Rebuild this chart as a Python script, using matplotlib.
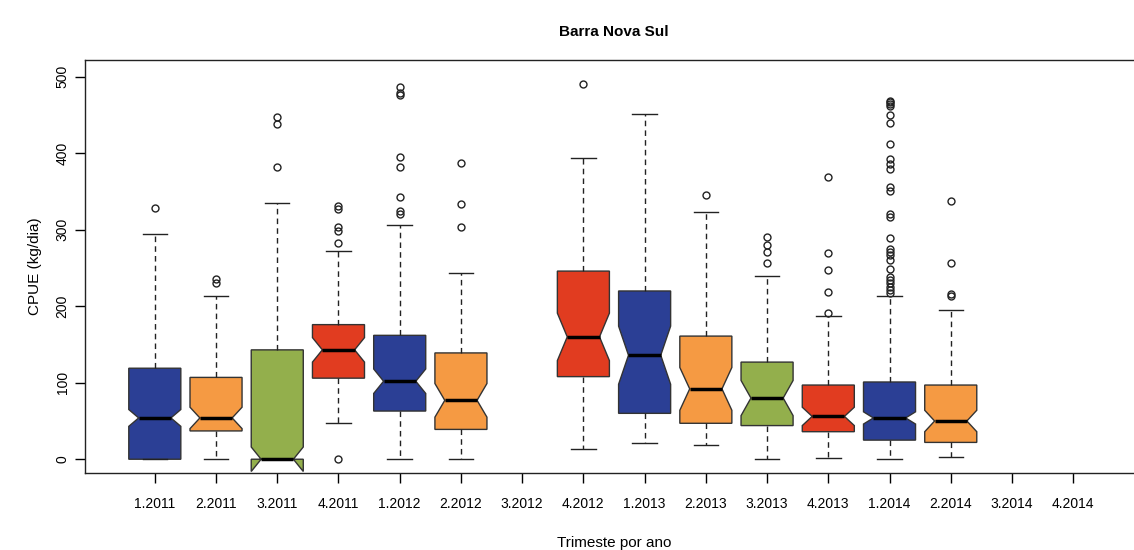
import numpy as np
import matplotlib
matplotlib.use("Agg")
import matplotlib.pyplot as plt

plt.rcParams['font.family'] = ['Liberation Sans', 'DejaVu Sans']

# Trimestres (quarter.year); None = sem dados
labels = ['1.2011', '2.2011', '3.2011', '4.2011', '1.2012', '2.2012', '3.2012', '4.2012',
          '1.2013', '2.2013', '3.2013', '4.2013', '1.2014', '2.2014', '3.2014', '4.2014']

q1 = [0, 37, 0, 106, 63, 39, None, 108, 60, 47, 44, 36, 25, 22, None, None]
med = [54, 54, 0, 143, 102, 77, None, 160, 136, 92, 80, 56, 54, 50, None, None]
q3 = [119, 107, 143, 176, 162, 139, None, 246, 220, 161, 127, 97, 101, 97, None, None]
whis_lo = [0, 0, 0, 47, 0, 0, None, 14, 21, 18, 0, 1, 0, 3, None, None]
whis_hi = [294, 213, 335, 272, 306, 243, None, 394, 451, 323, 240, 187, 214, 195, None, None]
notch_lo = [43, 40, -16, 127, 86, 55, None, 129, 98, 64, 57, 44, 46, 36, None, None]
notch_hi = [65, 68, 16, 159, 118, 99, None, 191, 174, 120, 103, 68, 62, 64, None, None]
outliers = [
    [328],
    [230, 236],
    [382, 438, 447],
    [0, 283, 298, 304, 327, 331],
    [321, 325, 343, 382, 395, 476, 479, 487],
    [304, 334, 387],
    [],
    [490],
    [],
    [345],
    [256, 271, 280, 290],
    [191, 219, 247, 269, 369],
    [217, 221, 225, 230, 234, 238, 249, 260, 267, 271, 275, 289, 317, 321,
     351, 356, 380, 386, 393, 412, 439, 450, 462, 465, 467, 469],
    [213, 216, 257, 338],
    [],
    [],
]

# cor por trimestre
quarter_colors = {'1': '#2b3f95', '2': '#f59a43', '3': '#93af4c', '4': '#e13c20'}

BOX_W = 0.85
NOTCH_W = 0.31  # meia-largura no entalhe, em fração da largura da caixa

stats, pos, cols = [], [], []
for i, lab in enumerate(labels):
    if med[i] is None:
        continue
    stats.append(dict(med=med[i], q1=q1[i], q3=q3[i], whislo=whis_lo[i], whishi=whis_hi[i],
                      cilo=notch_lo[i], cihi=notch_hi[i], fliers=np.array(outliers[i])))
    pos.append(i + 1)
    cols.append(quarter_colors[lab.split('.')[0]])

fig = plt.figure(figsize=(11.34, 5.5), dpi=100)
ax = fig.add_axes([85 / 1134, 77 / 550, 1058 / 1134, 413 / 550])

bp = ax.bxp(stats, positions=pos, widths=BOX_W, capwidths=0.4, shownotches=True,
            patch_artist=True,
            boxprops=dict(edgecolor='#333333', linewidth=1),
            medianprops=dict(color='black', linewidth=2.5),
            whiskerprops=dict(color='#222222', linewidth=1, linestyle=(0, (4, 3))),
            capprops=dict(color='#222222', linewidth=1),
            flierprops=dict(marker='o', markersize=5, markerfacecolor='none',
                            markeredgecolor='#222222', markeredgewidth=1))

# entalhe um pouco mais raso que o padrão
for patch, line, c, p in zip(bp['boxes'], bp['medians'], cols, pos):
    patch.set_facecolor(c)
    verts = patch.get_path().vertices
    verts[3, 0] = p + BOX_W * NOTCH_W
    verts[8, 0] = p - BOX_W * NOTCH_W
    line.set_xdata([p - BOX_W * NOTCH_W, p + BOX_W * NOTCH_W])

ax.set_xlim(-0.14, 17.14)
ax.set_ylim(-18, 522)
ax.set_xticks(range(1, len(labels) + 1))
ax.set_xticklabels(labels, fontsize=10)
ax.set_yticks([0, 100, 200, 300, 400, 500])
ax.tick_params(axis='x', direction='out', length=7, width=1, pad=10)
ax.tick_params(axis='y', direction='out', length=7, width=1, pad=4, labelsize=10)
for t in ax.get_yticklabels():
    t.set_rotation(90)
    t.set_va('center')

for s in ax.spines.values():
    s.set_linewidth(1)
    s.set_color('#222222')

ax.set_title('Barra Nova Sul', fontsize=11, fontweight='bold', pad=17)
ax.set_xlabel('Trimeste por ano', fontsize=11, labelpad=18)
ax.set_ylabel('CPUE (kg/dia)', fontsize=11, labelpad=10)

fig.savefig('out.png', dpi=100)
